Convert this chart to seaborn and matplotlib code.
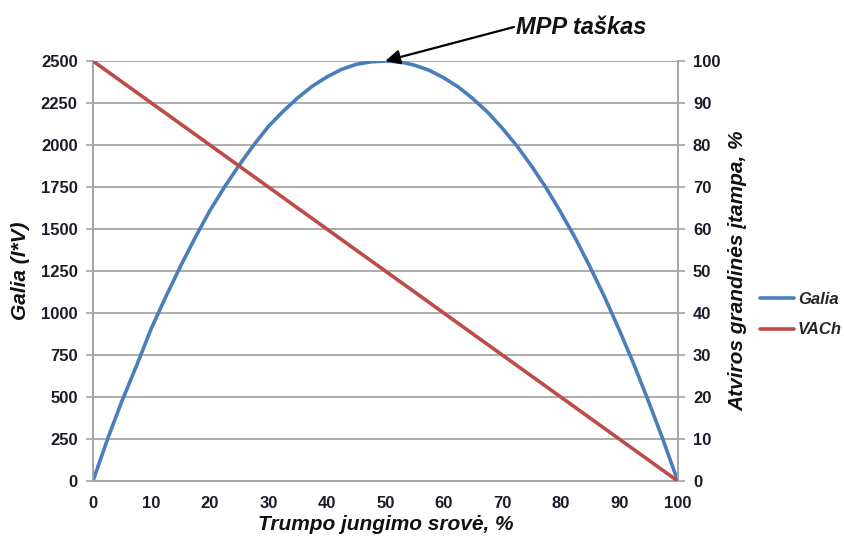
import matplotlib
matplotlib.use("Agg")
import matplotlib.pyplot as plt
import seaborn as sns
import pandas as pd

# Short-circuit current, % of Isc
current_pct = [0, 2.5, 5, 7.5, 10, 12.5, 15, 17.5, 20, 22.5, 25, 27.5, 30, 32.5, 35,
               37.5, 40, 42.5, 45, 47.5, 50, 52.5, 55, 57.5, 60, 62.5, 65, 67.5, 70,
               72.5, 75, 77.5, 80, 82.5, 85, 87.5, 90, 92.5, 95, 97.5, 100]
# Power curve (I*V)
galia = [0, 250, 480, 690, 910, 1100, 1280, 1450, 1610, 1750, 1880, 2000, 2110, 2200,
         2280, 2350, 2405, 2450, 2480, 2495, 2500, 2495, 2475, 2445, 2400, 2345, 2275,
         2195, 2100, 1995, 1875, 1745, 1600, 1445, 1275, 1095, 900, 695, 475, 245, 0]
# Open-circuit voltage, %
vach_x = [0, 10, 20, 30, 40, 50, 60, 70, 80, 90, 100]
vach = [100, 90, 80, 70, 60, 50, 40, 30, 20, 10, 0]

x_ticks = [0, 10, 20, 30, 40, 50, 60, 70, 80, 90, 100]
left_ticks = [0, 250, 500, 750, 1000, 1250, 1500, 1750, 2000, 2250, 2500]
right_ticks = [0, 10, 20, 30, 40, 50, 60, 70, 80, 90, 100]

BLUE = "#4a7ebb"
RED = "#be4b48"
GRID = "#a6a6a6"
TXT = "#1c1c28"

sns.set_style("white")
plt.rcParams["font.family"] = ["Liberation Sans", "DejaVu Sans"]

fig = plt.figure(figsize=(8.45, 5.39), dpi=100)
ax = fig.add_axes([0.110, 0.1076, 0.692, 0.7792])
ax2 = ax.twinx()

df_p = pd.DataFrame({"x": current_pct, "y": galia})
df_v = pd.DataFrame({"x": vach_x, "y": vach})

sns.lineplot(data=df_p, x="x", y="y", ax=ax, color=BLUE, lw=2.6, label="Galia",
             legend=False, zorder=3)
sns.lineplot(data=df_v, x="x", y="y", ax=ax2, color=RED, lw=2.6, label="VACh",
             legend=False, zorder=3)

ax.set_xlim(0, 100)
ax.set_ylim(0, 2500)
ax2.set_ylim(0, 100)
ax.set_xticks(x_ticks)
ax.set_yticks(left_ticks)
ax2.set_yticks(right_ticks)

ax.yaxis.grid(True, color=GRID, lw=1.3)
ax.xaxis.grid(False)
ax2.grid(False)
ax.set_axisbelow(True)

for a in (ax, ax2):
    for s in a.spines.values():
        s.set_color(GRID)
        s.set_linewidth(1.3)
    a.spines["top"].set_visible(False)

ax.tick_params(axis="both", which="major", direction="out", length=5, width=1.2,
               color=GRID, labelsize=12, labelcolor=TXT, pad=6)
ax2.tick_params(axis="y", direction="out", length=5, width=1.2, color=GRID,
                labelsize=12, labelcolor=TXT, pad=6)
for lab in ax.get_xticklabels() + ax.get_yticklabels() + ax2.get_yticklabels():
    lab.set_fontweight("bold")

ax.set_xlabel("Trumpo jungimo srovė, %", fontsize=15, fontweight="bold",
              fontstyle="italic", color="#111111", labelpad=3)
ax.set_ylabel("Galia (I*V)", fontsize=15, fontweight="bold", fontstyle="italic",
              color="#111111", labelpad=8)
ax2.set_ylabel("Atviros grandinės įtampa, %", fontsize=15, fontweight="bold",
               fontstyle="italic", color="#111111", labelpad=6)

# Legend
h1, l1 = ax.get_legend_handles_labels()
h2, l2 = ax2.get_legend_handles_labels()
leg = fig.legend(h1 + h2, l1 + l2, loc="upper left", bbox_to_anchor=(0.882, 0.487),
                 frameon=False, handlelength=2.0, handletextpad=0.25, labelspacing=0.95,
                 prop={"weight": "bold", "style": "italic", "size": 12})

# Maximum power point annotation
fig.text(516, 539 - 27, "MPP taškas", transform=None, ha="left", va="center",
         fontsize=17, fontweight="bold", fontstyle="italic", color="#111111")
ax.annotate("", xy=(50, 2500), xycoords="data",
            xytext=(514, 539 - 27), textcoords="figure pixels",
            arrowprops=dict(arrowstyle="-|>", color="black", lw=1.6,
                            mutation_scale=22, shrinkA=0, shrinkB=0))

fig.savefig("out.png", dpi=100)
